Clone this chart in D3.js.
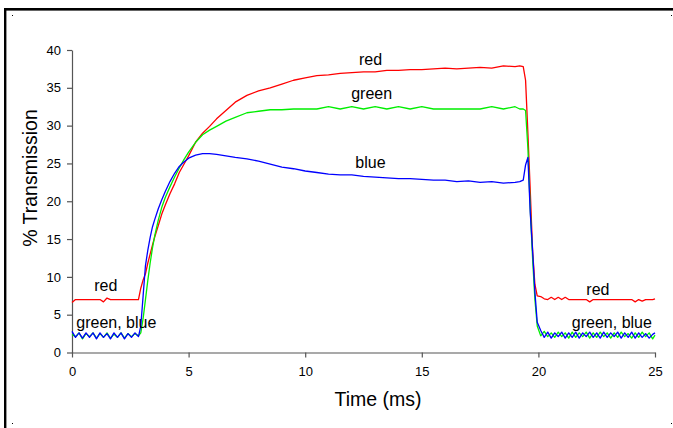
<!DOCTYPE html>
<html>
<head>
<meta charset="utf-8">
<script src="https://cdn.jsdelivr.net/npm/d3@7"></script>
<style>
  html, body { margin: 0; padding: 0; background: #fff; }
  svg { display: block; }
  text { font-family: "Liberation Sans", Arial, Helvetica, sans-serif; }
</style>
</head>
<body>
<svg id="chart" width="673" height="428"></svg>
<script>
// ---- data ----
const time = [
  0,0.15,0.3,0.45,0.6,0.75,0.9,1.05,1.2,1.35,1.5,1.65,1.8,1.95,2.1,2.25,2.4,2.55,2.7,2.85,
  2.95,3.05,3.15,3.25,3.35,3.45,3.55,3.7,3.85,4.0,
  4.2,4.4,4.6,4.8,5.0,5.3,5.6,5.9,6.2,6.6,
  7.0,7.5,8.0,8.5,9.0,9.5,10,10.5,11,11.5,
  12,12.5,13,13.5,14,14.5,15,15.5,16,16.5,
  17,17.5,18,18.5,19,19.2,19.35,19.45,19.55,19.65,
  19.75,19.85,19.95,
  20.1,20.25,20.4,20.55,20.7,20.85,
  21,21.15,21.3,21.45,21.6,21.75,21.9,
  22.05,22.2,22.35,22.5,22.65,22.8,22.95,
  23.1,23.25,23.4,23.55,23.7,23.85,
  24,24.15,24.3,24.45,24.6,24.75,24.9,25
];

const redValues = [
  6.6,7.0,7.0,7.0,7.0,7.0,7.0,7.0,7.0,6.7,7.2,7.0,7.0,7.0,7.0,7.0,7.0,7.0,7.0,7.0,
  8.5,9.6,10.4,11.8,13.0,14.2,15.3,16.8,18.3,19.5,
  21.0,22.3,23.8,24.9,26.0,27.8,29.0,29.9,30.9,32.0,
  33.1,34.0,34.6,35.0,35.5,36.0,36.3,36.6,36.7,36.9,
  37.0,37.1,37.1,37.3,37.3,37.4,37.4,37.5,37.6,37.5,
  37.6,37.7,37.6,37.9,37.8,37.9,37.8,36.0,29.0,21.5,
  13.5,9.0,7.5,
  7.4,7.1,7.0,7.3,7.0,7.3,
  7.0,7.3,7.0,7.0,7.0,7.0,7.0,
  7.0,6.7,7.0,7.0,7.0,7.0,7.0,
  7.0,7.0,7.0,7.0,7.0,7.0,
  7.0,6.7,7.0,6.8,7.0,7.0,7.0,7.1
];

const greenValues = [
  2.4,2.1,2.6,1.8,2.5,2.1,2.6,1.9,2.5,2.0,2.6,1.9,2.4,2.0,2.6,1.9,2.5,2.1,2.5,2.2,
  2.6,4.5,7.0,9.5,11.8,13.8,15.5,17.5,19.2,20.5,
  21.9,23.2,24.4,25.5,26.5,27.8,28.8,29.4,29.9,30.6,
  31.1,31.7,31.9,32.1,32.1,32.2,32.2,32.2,32.5,32.2,
  32.5,32.2,32.5,32.2,32.5,32.2,32.5,32.2,32.2,32.2,
  32.2,32.2,32.5,32.2,32.5,32.2,32.2,32.0,27.0,19.0,
  12.5,7.0,3.5,
  2.2,2.8,2.1,2.6,2.0,2.7,
  2.1,2.6,1.9,2.7,2.0,2.6,2.1,
  2.7,1.9,2.6,2.0,2.7,2.1,2.6,
  1.9,2.6,2.0,2.7,2.1,2.5,
  1.9,2.6,2.0,2.7,2.1,2.6,1.8,2.3
];

const blueValues = [
  2.8,2.0,2.6,1.9,2.6,2.0,2.6,1.8,2.6,2.0,2.5,1.8,2.6,2.0,2.6,1.8,2.5,2.0,2.6,2.1,
  3.5,7.5,11.5,13.5,15.2,16.6,17.6,19.0,20.2,21.3,
  22.6,23.7,24.6,25.2,25.7,26.1,26.3,26.3,26.2,26.0,
  25.8,25.6,25.3,24.9,24.5,24.3,24.0,23.8,23.6,23.5,
  23.5,23.3,23.2,23.1,23.0,23.0,22.9,22.8,22.8,22.6,
  22.7,22.5,22.6,22.4,22.5,22.6,22.8,24.8,25.8,18.5,
  13.5,8.0,4.0,
  2.9,2.0,2.7,1.9,2.6,2.1,
  2.7,1.9,2.6,2.0,2.7,1.9,2.6,
  2.1,2.7,2.0,2.6,1.9,2.7,2.0,
  2.6,2.1,2.7,1.9,2.6,2.0,
  2.7,1.9,2.6,2.0,2.5,1.9,2.4,2.6
];

const xTicks = [0, 5, 10, 15, 20, 25];
const yTicks = [0, 5, 10, 15, 20, 25, 30, 35, 40];

const seriesNames = ["red", "green", "blue"];
const seriesColors = ["#ff0000", "#00ee00", "#0000ff"];

const labelTexts = ["red", "green", "blue", "red", "green, blue", "red", "green, blue"];
const labelX = [12.8, 12.85, 12.8, 1.45, 1.9, 22.55, 23.15];
const labelY = [38.0, 33.5, 24.4, 8.1, 3.25, 7.6, 3.2];

// ---- chart ----
const svg = d3.select("#chart");
const x = d3.scaleLinear().domain([0, 25]).range([72, 655]);
const y = d3.scaleLinear().domain([0, 40]).range([352.5, 50]);

// frame
svg.append("rect").attr("x", 4).attr("y", 8).attr("width", 669).attr("height", 2.6).attr("fill", "#000");
svg.append("rect").attr("x", 4).attr("y", 8).attr("width", 2.4).attr("height", 420).attr("fill", "#000");
[[12,15],[671,15],[12,423],[671,423]].forEach(p => {
  svg.append("rect").attr("x", p[0]).attr("y", p[1]).attr("width", 1).attr("height", 1).attr("fill", "#000");
});

// axes
const yAxis = d3.axisLeft(y).tickValues(yTicks).tickSize(5).tickSizeOuter(0).tickPadding(6);
const gy = svg.append("g").attr("transform", `translate(${x(0)},0)`).call(yAxis);
const xAxis = d3.axisBottom(x).tickValues(xTicks).tickSize(5).tickSizeOuter(0).tickPadding(9);
const gx = svg.append("g").attr("transform", `translate(0,${y(0)})`).call(xAxis);
[gx, gy].forEach(g => {
  g.select(".domain").attr("stroke", "#555").attr("stroke-width", 1.2);
  g.selectAll(".tick line").attr("stroke", "#555").attr("stroke-width", 1.2);
  g.selectAll(".tick text").attr("fill", "#000").style("font-size", "13px")
    .style("font-family", '"Liberation Sans", Arial, sans-serif');
});

// lines
const allValues = [redValues, greenValues, blueValues];
const line = d3.line().x(d => x(d[0])).y(d => y(d[1]));
allValues.forEach((vals, i) => {
  const pts = time.map((t, k) => [t, vals[k]]);
  svg.append("path").datum(pts)
    .attr("d", line)
    .attr("fill", "none")
    .attr("stroke", seriesColors[i])
    .attr("stroke-width", 1.3)
    .attr("stroke-linejoin", "round")
    .attr("class", "series-" + seriesNames[i]);
});

// labels
labelTexts.forEach((t, i) => {
  svg.append("text")
    .attr("x", x(labelX[i]))
    .attr("y", y(labelY[i]))
    .attr("text-anchor", "middle")
    .style("font-size", "16px")
    .attr("fill", "#000")
    .text(t);
});

// axis titles
svg.append("text")
  .attr("x", 378).attr("y", 406)
  .attr("text-anchor", "middle")
  .style("font-size", "19.5px")
  .text("Time (ms)");
svg.append("text")
  .attr("transform", "translate(36.5,178) rotate(-90)")
  .attr("text-anchor", "middle")
  .style("font-size", "19.5px")
  .text("% Transmission");
</script>
</body>
</html>
